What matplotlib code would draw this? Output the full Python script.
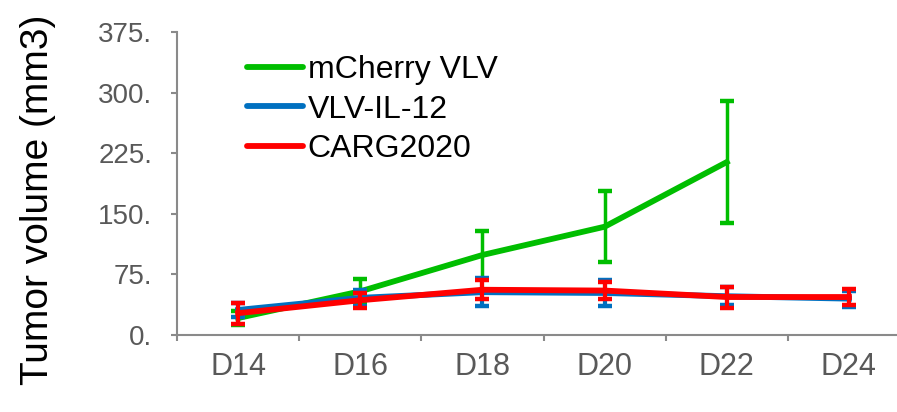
import matplotlib
matplotlib.use("Agg")
import matplotlib.pyplot as plt

plt.rcParams["font.family"] = ["Liberation Sans", "DejaVu Sans"]

# data
days = ["D14", "D16", "D18", "D20", "D22", "D24"]
mcherry = [21, 54, 99, 134, 214]
mcherry_err = [9, 15, 30, 44, 76]
il12 = [31, 46, 53, 52, 48, 45]
il12_err = [9, 10, 17, 16, 11, 10]
carg = [27, 43, 56, 55, 47, 47]
carg_err = [13, 9, 12, 11, 13, 10]
yticks = [0, 75, 150, 225, 300, 375]

green = "#00BE00"
blue = "#0070C0"
red = "#FF0000"
gray = "#595959"
spine = "#8A8A8A"

fig = plt.figure(figsize=(8.97, 4.12), dpi=100)
ax = fig.add_axes([177 / 897, 77 / 412, 733 / 897, 303 / 412])

x = list(range(len(days)))

ax.errorbar(x[:len(mcherry)], mcherry, yerr=mcherry_err, color=green, lw=4.2,
            elinewidth=2.5, capsize=5, capthick=3.2, label="mCherry VLV", zorder=2)
ax.errorbar(x, il12, yerr=il12_err, color=blue, lw=4.2,
            elinewidth=3, capsize=5, capthick=3.2, label="VLV-IL-12", zorder=3)
ax.errorbar(x, carg, yerr=carg_err, color=red, lw=4.2,
            elinewidth=3, capsize=5, capthick=3.2, label="CARG2020", zorder=4)

ax.set_xlim(-0.5, len(days) - 0.5)
ax.set_ylim(0, 375)
ax.set_yticks(yticks)
ax.set_yticklabels([f"{v}." for v in yticks])
ax.set_xticks(x)
ax.set_xticklabels(days)
ax.set_xticks([i - 0.5 for i in range(len(days) + 1)], minor=True)

ax.tick_params(axis="x", which="major", length=0, pad=12, labelsize=22, labelcolor=gray)
ax.tick_params(axis="x", which="minor", length=4, width=1.5, color=spine, direction="out")
ax.tick_params(axis="y", length=4, width=1.5, color=spine, pad=14, labelsize=20,
               labelcolor=gray)

for side in ["top", "right"]:
    ax.spines[side].set_visible(False)
for side in ["left", "bottom"]:
    ax.spines[side].set_color(spine)
    ax.spines[side].set_linewidth(1.5)

fig.text(38 / 897, 0.515, "Tumor volume (mm3)", rotation=90, fontsize=28,
         ha="center", va="center", color="black")

handles = [plt.Line2D([], [], color=c, lw=4.2, solid_capstyle="round")
           for c in (green, blue, red)]
ax.legend(handles, ["mCherry VLV", "VLV-IL-12", "CARG2020"], loc="upper left",
          bbox_to_anchor=(247 / 897, 1 - 55 / 412), bbox_transform=fig.transFigure,
          frameon=False, fontsize=23, handlelength=1.75, handletextpad=0.15,
          labelspacing=0.3, borderaxespad=0, borderpad=0)

fig.savefig("out.png", dpi=100)
